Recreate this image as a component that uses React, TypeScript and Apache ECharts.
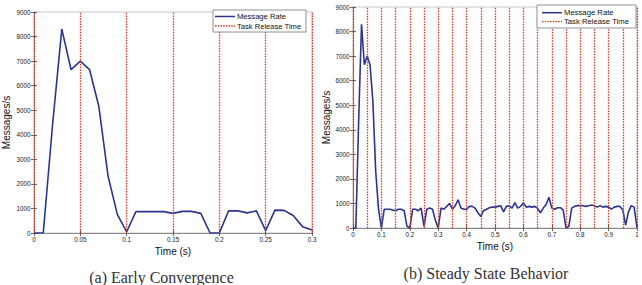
import React, { useEffect, useRef } from "react";
import * as echarts from "echarts";

// Sample times (s) and measured message rates (messages/s)
const timesA = [
  0, 0.01, 0.02, 0.03, 0.04, 0.05, 0.06, 0.07, 0.08, 0.09,
  0.1, 0.11, 0.12, 0.13, 0.14, 0.15, 0.16, 0.17, 0.18, 0.19,
  0.2, 0.21, 0.22, 0.23, 0.24, 0.25, 0.26, 0.27, 0.28, 0.29, 0.3,
];
const rateA = [
  0, 0, 4400, 8300, 6650, 7000, 6650, 5150, 2300, 750,
  50, 870, 870, 870, 870, 800, 880, 880, 800, 0,
  0, 900, 900, 820, 900, 100, 930, 920, 700, 250, 120,
];

const timesB = [
  0, 0.01, 0.02, 0.03, 0.04, 0.05, 0.06, 0.07, 0.08, 0.09,
  0.1, 0.11, 0.12, 0.13, 0.14, 0.15, 0.16, 0.17, 0.18, 0.19,
  0.2, 0.21, 0.22, 0.23, 0.24, 0.25, 0.26, 0.27, 0.28, 0.29,
  0.3, 0.31, 0.32, 0.33, 0.34, 0.35, 0.36, 0.37, 0.38, 0.39,
  0.4, 0.41, 0.42, 0.43, 0.44, 0.45, 0.46, 0.47, 0.48, 0.49,
  0.5, 0.51, 0.52, 0.53, 0.54, 0.55, 0.56, 0.57, 0.58, 0.59,
  0.6, 0.61, 0.62, 0.63, 0.64, 0.65, 0.66, 0.67, 0.68, 0.69,
  0.7, 0.71, 0.72, 0.73, 0.74, 0.75, 0.76, 0.77, 0.78, 0.79,
  0.8, 0.81, 0.82, 0.83, 0.84, 0.85, 0.86, 0.87, 0.88, 0.89,
  0.9, 0.91, 0.92, 0.93, 0.94, 0.95, 0.96, 0.97, 0.98, 0.99, 1,
];
const rateB = [
  0, 0, 4400, 8300, 6650, 7000, 6650, 5150, 2300, 750,
  0, 765, 765, 765, 735, 705, 765, 765, 705, 70,
  0, 765, 765, 705, 810, 70, 765, 810, 765, 320,
  0, 810, 765, 880, 1000, 765, 910, 1150, 810, 765,
  765, 880, 880, 810, 620, 470, 705, 765, 825, 850,
  850, 880, 910, 660, 880, 910, 810, 1030, 810, 880,
  1030, 850, 880, 850, 880, 795, 620, 810, 955, 1250,
  810, 765, 825, 825, 735, 0, 70, 810, 880, 910,
  910, 910, 880, 910, 940, 910, 850, 910, 850, 880,
  850, 765, 850, 880, 880, 735, 120, 660, 910, 850, 0,
];

// Task release instants (s)
const releaseA = [0, 0.05, 0.1, 0.15, 0.2, 0.25, 0.3];
const releaseB = [
  0, 0.05, 0.1, 0.15, 0.2, 0.25, 0.3, 0.35, 0.4, 0.45, 0.5,
  0.55, 0.6, 0.65, 0.7, 0.75, 0.8, 0.85, 0.9, 0.95, 1,
];

const yTicks = { min: 0, max: 9000, interval: 1000 };
const seriesNames = ["Message Rate", "Task Release Time"];
const captions = ["(a) Early Convergence", "(b) Steady State Behavior"];
const axisTitles = { x: "Time (s)", y: "Messages/s" };

const BLUE = "#2b3590";
const RED = "#d63a22";
const SANS = "Liberation Sans";
const SERIF = "Liberation Serif";

const fmt = (v: number) => String(parseFloat(v.toFixed(3)));

function axesFor(gridIndex: number, xMax: number, xInterval: number, yGap: number) {
  const tickStyle = { lineStyle: { color: "#444", width: 0.8 } };
  const xBottom = {
    type: "value",
    gridIndex,
    position: "bottom",
    min: 0,
    max: xMax,
    interval: xInterval,
    name: axisTitles.x,
    nameLocation: "middle",
    nameGap: 9,
    nameTextStyle: { fontSize: 10, color: "#111", fontFamily: SANS },
    axisLine: { show: true, lineStyle: { color: "#888", width: 1 } },
    axisTick: { show: true, inside: true, length: 3, ...tickStyle },
    axisLabel: { fontSize: 6.3, color: "#222", fontFamily: SANS, margin: 3, formatter: fmt },
    splitLine: { show: false },
  };
  const xTop = {
    type: "value",
    gridIndex,
    position: "top",
    min: 0,
    max: xMax,
    interval: xInterval,
    axisLine: { show: false },
    axisTick: { show: true, inside: true, length: 3, ...tickStyle },
    axisLabel: { show: false },
    splitLine: { show: false },
  };
  const yLeft = {
    type: "value",
    gridIndex,
    position: "left",
    ...yTicks,
    name: axisTitles.y,
    nameLocation: "middle",
    nameGap: yGap,
    nameTextStyle: { fontSize: 10, color: "#111", fontFamily: SANS },
    axisLine: { show: true, lineStyle: { color: "#888", width: 1 } },
    axisTick: { show: true, inside: true, length: 3, ...tickStyle },
    axisLabel: { fontSize: 6.3, color: "#222", fontFamily: SANS, margin: 3.5, formatter: fmt },
    splitLine: { show: false },
  };
  const yRight = {
    type: "value",
    gridIndex,
    position: "right",
    ...yTicks,
    axisLine: { show: false },
    axisTick: { show: true, inside: true, length: 3, ...tickStyle },
    axisLabel: { show: false },
    splitLine: { show: false },
  };
  return { x: [xBottom, xTop], y: [yLeft, yRight] };
}

function legendBox(x: number, y: number, w: number, h: number, lineX: number, rowY: number[], fontSize: number) {
  return {
    type: "group",
    z: 100,
    children: [
      {
        type: "rect",
        z: 100,
        shape: { x, y, width: w, height: h },
        style: { fill: "#fff", stroke: "#777", lineWidth: 0.8 },
      },
      {
        type: "line",
        z: 101,
        shape: { x1: lineX, y1: rowY[0], x2: lineX + 20, y2: rowY[0] },
        style: { stroke: BLUE, lineWidth: 1.5 },
      },
      {
        type: "text",
        z: 101,
        x: lineX + 22,
        y: rowY[0],
        style: { text: seriesNames[0], fontSize, fontFamily: SANS, fill: "#111", verticalAlign: "middle" },
      },
      {
        type: "line",
        z: 101,
        shape: { x1: lineX, y1: rowY[1], x2: lineX + 20, y2: rowY[1] },
        style: { stroke: RED, lineWidth: 1.3, lineDash: [1.5, 1.2] },
      },
      {
        type: "text",
        z: 101,
        x: lineX + 22,
        y: rowY[1],
        style: { text: seriesNames[1], fontSize, fontFamily: SANS, fill: "#111", verticalAlign: "middle" },
      },
    ],
  };
}

function rateSeries(xAxisIndex: number, yAxisIndex: number, times: number[], rates: number[], releases: number[]) {
  return [
    {
      name: seriesNames[1],
      type: "line",
      xAxisIndex,
      yAxisIndex,
      data: times.map((t, i) => [t, rates[i]]),
      symbol: "none",
      lineStyle: { opacity: 0 },
      silent: true,
      z: 1,
      markLine: {
        silent: true,
        symbol: ["none", "none"],
        label: { show: false },
        lineStyle: { color: RED, width: 1.3, type: [1.5, 1.2], opacity: 1 },
        emphasis: { disabled: true },
        data: releases.map((r) => ({ xAxis: r })),
      },
    },
    {
      name: seriesNames[0],
      type: "line",
      xAxisIndex,
      yAxisIndex,
      data: times.map((t, i) => [t, rates[i]]),
      symbol: "none",
      z: 3,
      lineStyle: { color: BLUE, width: 1.6 },
    },
  ];
}

export default function App() {
  const ref = useRef<HTMLDivElement>(null);

  useEffect(() => {
    if (!ref.current) return;
    const chart = echarts.init(ref.current, null, { renderer: "svg" });
    const a = axesFor(0, 0.3, 0.05, 23);
    const b = axesFor(1, 1, 0.1, 22);

    chart.setOption({
      animation: false,
      backgroundColor: "#fff",
      grid: [
        { left: 28, top: 12, width: 284, height: 221, show: true, borderColor: "#c8c8c8", borderWidth: 1, backgroundColor: "transparent" },
        { left: 353, top: 7, width: 284, height: 221, show: true, borderColor: "#c8c8c8", borderWidth: 1, backgroundColor: "transparent" },
      ],
      xAxis: [...a.x, ...b.x],
      yAxis: [...a.y, ...b.y],
      series: [
        ...rateSeries(0, 0, timesA, rateA, releaseA),
        ...rateSeries(2, 2, timesB, rateB, releaseB),
      ],
      graphic: [
        legendBox(213, 10, 93, 22, 215, [16.5, 26], 7.6),
        legendBox(537, 5, 99, 23, 542, [12.7, 21.7], 7.7),
        {
          type: "text",
          z: 100,
          x: 161.5,
          y: 277,
          style: { text: captions[0], fontSize: 16, fontFamily: SERIF, fill: "#333", align: "center", verticalAlign: "middle" },
        },
        {
          type: "text",
          z: 100,
          x: 486,
          y: 273,
          style: { text: captions[1], fontSize: 16, fontFamily: SERIF, fill: "#333", align: "center", verticalAlign: "middle" },
        },
      ],
    });
    return () => chart.dispose();
  }, []);

  return (
    <div
      ref={ref}
      style={{ position: "absolute", left: 0, top: 0, width: 642, height: 285 }}
    />
  );
}
